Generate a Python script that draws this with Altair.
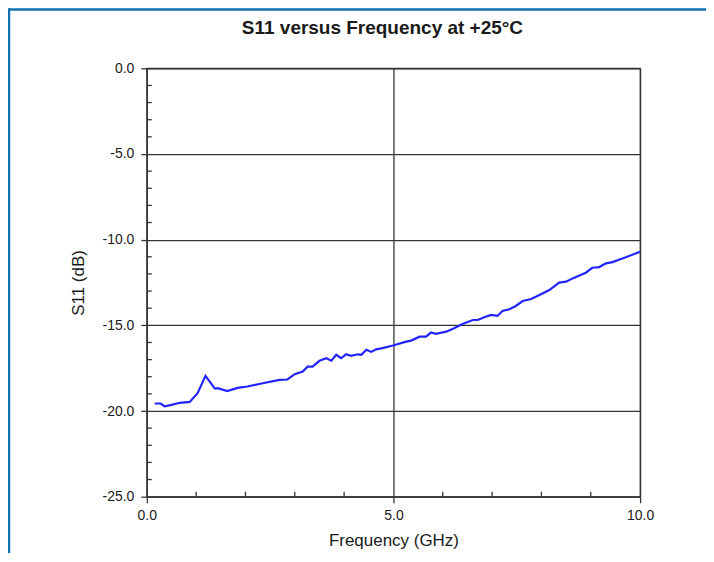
import altair as alt
import pandas as pd

freq_ghz = [0.16, 0.28, 0.36, 0.50, 0.67, 0.87, 1.03, 1.19, 1.38, 1.44, 1.63, 1.84, 2.04,
            2.35, 2.69, 2.85, 3.00, 3.16, 3.26, 3.36, 3.50, 3.64, 3.74, 3.84, 3.94, 4.04,
            4.14, 4.28, 4.35, 4.45, 4.55, 4.65, 4.78, 4.99, 5.26, 5.36, 5.53, 5.66, 5.76,
            5.86, 6.07, 6.23, 6.40, 6.61, 6.71, 6.84, 6.98, 7.11, 7.21, 7.35, 7.48, 7.62,
            7.79, 7.96, 8.16, 8.36, 8.50, 8.63, 8.90, 9.03, 9.17, 9.31, 9.44, 9.71, 10.0]
s11_db = [-19.56, -19.56, -19.72, -19.64, -19.52, -19.47, -18.96, -17.95, -18.69, -18.67,
          -18.84, -18.65, -18.57, -18.38, -18.18, -18.16, -17.85, -17.70, -17.41, -17.41,
          -17.07, -16.92, -17.06, -16.72, -16.92, -16.69, -16.78, -16.69, -16.72, -16.43,
          -16.55, -16.40, -16.33, -16.18, -15.95, -15.89, -15.66, -15.66, -15.42, -15.50,
          -15.37, -15.17, -14.92, -14.69, -14.69, -14.53, -14.39, -14.45, -14.16, -14.06,
          -13.87, -13.58, -13.46, -13.23, -12.94, -12.51, -12.45, -12.26, -11.93, -11.64,
          -11.60, -11.38, -11.31, -11.03, -10.70]

title_text = "S11 versus Frequency at +25°C"
x_title = "Frequency (GHz)"
y_title = "S11 (dB)"
x_major = [0, 5, 10]
y_major = [0, -5, -10, -15, -20, -25]
x_minor = [1, 2, 3, 4, 6, 7, 8, 9]
y_minor = [-1, -2, -3, -4, -6, -7, -8, -9, -11, -12, -13, -14,
           -16, -17, -18, -19, -21, -22, -23, -24]

FONT = "Liberation Sans"
GRID = "#363636"
TEXT = "#1a1a1a"
MINUS = "replace(datum.label, '\u2212', '-')"

df = pd.DataFrame({"f": freq_ghz, "s": s11_db})
xs = alt.Scale(domain=[0, 10], nice=False, zero=False)
ys = alt.Scale(domain=[-25, 0], nice=False, zero=False)

common = dict(format=".1f", grid=True, gridColor=GRID, gridWidth=1.3, tickSize=6,
              tickColor=GRID, tickWidth=1.3, domainColor=GRID, domainWidth=1.3,
              labelFontSize=14, labelFont=FONT, labelColor=TEXT, labelFlush=False,
              labelExpr=MINUS, titleFontSize=17, titleFont=FONT, titleColor=TEXT,
              titleFontWeight="normal")

line = alt.Chart(df).mark_line(color="#2424ff", strokeWidth=2.2).encode(
    x=alt.X("f:Q", scale=xs, title=x_title,
            axis=alt.Axis(values=x_major, labelPadding=6, titlePadding=10, **common)),
    y=alt.Y("s:Q", scale=ys, title=y_title,
            axis=alt.Axis(values=y_major, labelPadding=7, titlePadding=14, **common)),
)

xmin = alt.Chart(pd.DataFrame({"f": x_minor})).mark_rule(color=GRID, strokeWidth=1.3).encode(
    x=alt.X("f:Q", scale=xs), y=alt.value(429), y2=alt.value(424))
ymin = alt.Chart(pd.DataFrame({"s": y_minor})).mark_rule(color=GRID, strokeWidth=1.3).encode(
    y=alt.Y("s:Q", scale=ys), x=alt.value(0), x2=alt.value(5))

one = pd.DataFrame({"a": [0]})
title = alt.Chart(one).mark_text(font=FONT, fontSize=19, fontWeight="bold", color=TEXT,
                                 align="center", baseline="alphabetic").encode(
    text=alt.value(title_text), x=alt.value(236), y=alt.value(-34))
border_top = alt.Chart(one).mark_rule(color="#1270b0", strokeWidth=2.5).encode(
    x=alt.value(-139), x2=alt.value(570), y=alt.value(-59))
border_left = alt.Chart(one).mark_rule(color="#1270b0", strokeWidth=2.5).encode(
    x=alt.value(-138), y=alt.value(-60), y2=alt.value(500))

chart = alt.layer(xmin, ymin, line, title, border_top, border_left).properties(
    width=494, height=429,
    autosize=alt.AutoSizeParams(type="none"),
    padding={"left": 139, "top": 60, "right": 66, "bottom": 56},
).configure_view(stroke=GRID, strokeWidth=1.3)

chart.save("out.html", embed_options={"renderer": "svg", "actions": False})
